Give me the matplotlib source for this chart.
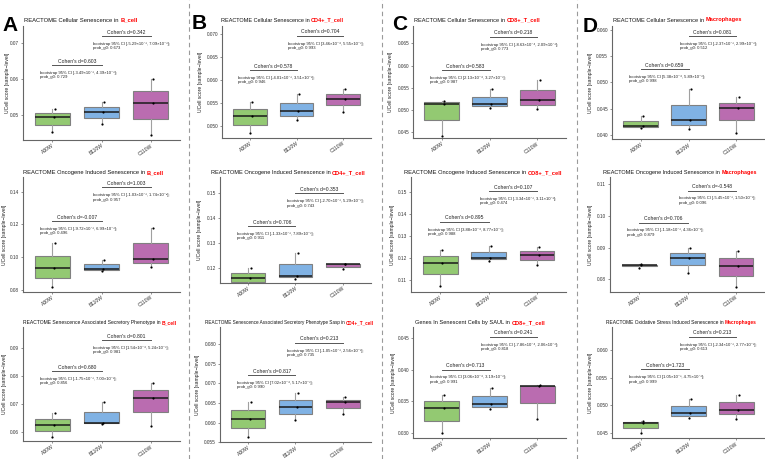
import matplotlib
matplotlib.use('Agg')
import matplotlib.pyplot as plt
import numpy as np

W, H = 765, 459
FONT = ['Liberation Sans', 'DejaVu Sans']
plt.rcParams['font.family'] = FONT

groups = ['A30W', 'B110W', 'C110W']
box_colors = ['#93C972', '#80B2E4', '#BA6CB0']

cells = ['B_cell', 'CD4+_T_cell', 'CD8+_T_cell', 'Macrophages']
title_prefix = [
    ['REACTOME Cellular Senescence in'] * 4,
    ['REACTOME Oncogene Induced Senescence in'] * 4,
    ['REACTOME Senescence Associated Secretory Phenotype in',
     'REACTOME Senescence Associated Secretory Phenotype Sasp in',
     'Genes In Senescent Cells by SAUL in',
     'REACTOME Oxidative Stress Induced Senescence in'],
]

# sample-level UCell scores (3 samples per group), per panel
vals_A1 = [[0.05167, 0.04935, 0.04537], [0.05353, 0.05083, 0.04750], [0.05992, 0.05325, 0.04444]]
vals_B1 = [[0.05530, 0.05218, 0.04841], [0.05698, 0.05327, 0.05131], [0.05800, 0.05595, 0.05305]]
vals_C1 = [[0.05210, 0.05130, 0.04424], [0.05466, 0.05130, 0.05053], [0.05670, 0.05226, 0.05017]]
vals_D1 = [[0.04362, 0.04177, 0.04127], [0.04870, 0.04286, 0.04108], [0.04718, 0.04509, 0.04044]]
vals_A2 = [[0.1085, 0.09325, 0.0820], [0.0983, 0.0931, 0.0918], [0.1180, 0.0989, 0.0942]]
vals_B2 = [[0.1202, 0.1160, 0.1129], [0.1262, 0.1170, 0.1157], [0.1218, 0.1216, 0.1197]]
vals_C2 = [[0.1236, 0.1178, 0.1073], [0.1255, 0.1200, 0.1187], [0.1248, 0.1213, 0.1168]]
vals_D2 = [[0.0847, 0.0845, 0.0837], [0.0900, 0.08665, 0.0821], [0.0889, 0.0843, 0.0777]]
vals_A3 = [[0.06683, 0.06240, 0.05800], [0.07080, 0.06324, 0.06266], [0.07763, 0.07223, 0.06205]]
vals_B3 = [[0.06536, 0.06094, 0.05628], [0.06750, 0.06393, 0.06069], [0.06663, 0.06520, 0.06214]]
vals_C3 = [[0.03600, 0.03401, 0.03000], [0.03706, 0.03460, 0.03376], [0.03757, 0.03742, 0.03220]]
vals_D3 = [[0.04718, 0.04681, 0.04489], [0.05112, 0.04852, 0.04761], [0.05184, 0.04912, 0.04749]]
panel_vals = [vals_A1, vals_B1, vals_C1, vals_D1,
              vals_A2, vals_B2, vals_C2, vals_D2,
              vals_A3, vals_B3, vals_C3, vals_D3]

# y tick labels per panel
yt_A1 = ['0.05', '0.06', '0.07']
yt_B1 = ['0.050', '0.055', '0.060', '0.065', '0.070']
yt_C1 = ['0.045', '0.050', '0.055', '0.060', '0.065']
yt_D1 = ['0.040', '0.045', '0.050', '0.055', '0.060']
yt_A2 = ['0.08', '0.10', '0.12', '0.14']
yt_B2 = ['0.12', '0.13', '0.14', '0.15']
yt_C2 = ['0.11', '0.12', '0.13', '0.14', '0.15']
yt_D2 = ['0.08', '0.09', '0.10', '0.11']
yt_A3 = ['0.06', '0.07', '0.08', '0.09']
yt_B3 = ['0.055', '0.060', '0.065', '0.070', '0.075', '0.080']
yt_C3 = ['0.030', '0.035', '0.040', '0.045']
yt_D3 = ['0.045', '0.050', '0.055', '0.060']
panel_yticks = [yt_A1, yt_B1, yt_C1, yt_D1, yt_A2, yt_B2, yt_C2, yt_D2,
                yt_A3, yt_B3, yt_C3, yt_D3]

# y limits per panel
ylims = [(0.04306, 0.07472), (0.04745, 0.07181), (0.04365, 0.06889), (0.03918, 0.06076),
         (0.07896, 0.14899), (0.11424, 0.15652), (0.1047, 0.15665), (0.07608, 0.1123),
         (0.05665, 0.09766), (0.05500, 0.08441), (0.02922, 0.04667), (0.04398, 0.06418)]

# comparison statistics: A30W vs B110W (lower) and B110W vs C110W (upper)
cohen_lo = ['0.603', '0.578', '0.583', '0.659', '-0.007', '0.706', '0.895', '0.706',
            '0.680', '0.817', '0.713', '1.723']
ci_lo = ['[-3.49×10⁻³, 4.39×10⁻³]', '[-4.01×10⁻³, 3.51×10⁻³]', '[2.13×10⁻⁴, 3.27×10⁻³]',
         '[5.38×10⁻⁴, 5.89×10⁻³]', '[-9.72×10⁻³, 6.99×10⁻³]', '[-1.33×10⁻³, 7.89×10⁻³]',
         '[3.88×10⁻⁴, 8.77×10⁻³]', '[-1.18×10⁻³, 4.36×10⁻³]', '[-1.75×10⁻³, 7.00×10⁻³]',
         '[7.02×10⁻⁴, 5.17×10⁻³]', '[3.06×10⁻⁴, 3.19×10⁻³]', '[1.05×10⁻³, 4.75×10⁻³]']
prob_lo = ['0.729', '0.946', '0.987', '0.998', '0.496', '0.911', '0.988', '0.879',
           '0.856', '0.990', '0.991', '0.999']
cohen_hi = ['0.342', '0.704', '0.218', '0.081', '1.003', '0.353', '0.107', '-0.548',
            '0.801', '0.213', '0.241', '0.213']
ci_hi = ['[-5.29×10⁻³, 7.09×10⁻³]', '[3.46×10⁻⁴, 5.55×10⁻³]', '[-8.63×10⁻⁴, 2.09×10⁻³]',
         '[-2.37×10⁻³, 2.99×10⁻³]', '[-1.03×10⁻³, 1.74×10⁻²]', '[-2.70×10⁻³, 5.29×10⁻³]',
         '[-3.34×10⁻³, 3.11×10⁻³]', '[-5.45×10⁻³, 1.50×10⁻³]', '[1.54×10⁻⁴, 5.24×10⁻³]',
         '[-1.05×10⁻³, 2.56×10⁻³]', '[-7.86×10⁻⁴, 2.06×10⁻³]', '[-2.34×10⁻³, 2.77×10⁻³]']
prob_hi = ['0.673', '0.993', '0.773', '0.512', '0.957', '0.743', '0.474', '0.096',
           '0.981', '0.735', '0.818', '0.613']
bracket_lo = [0.06389, 0.06222, 0.0590, 0.05257, 0.1221, 0.1369, 0.1364, 0.0979,
              0.08183, 0.07217, 0.0400, 0.0565]
bracket_hi = [0.07194, 0.0697, 0.06648, 0.05886, 0.1427, 0.1500, 0.1503, 0.1080,
              0.09298, 0.0804, 0.04515, 0.06242]

# layout (pixels)
axes_px = [(23, 180, 26, 140), (222, 371, 26, 137.7), (413, 566, 26, 138.3), (612, 765, 26, 139.3),
           (23, 180, 177, 291.7), (220, 371, 177, 282.7), (411, 566, 177, 291.7), (610, 765, 177, 291.7),
           (23, 180, 327, 441), (220, 371, 327, 442.3), (413, 566, 327, 438.3), (612, 765, 327, 438.3)]
ylabel_px = [10, 202.7, 393.3, 593.3, 7.3, 201.7, 395, 593.3, 6.7, 200, 396, 593.3]
title_px = [(24, 20, 115), (220.7, 20, 126), (414, 20, 127.7), (612.7, 20, 130.7),
            (22.7, 172.7, 144), (210.7, 172.7, 155.3), (404, 172.7, 161), (603.3, 172.7, 158),
            (22.7, 322.7, 154), (205, 322.7, 170), (415, 322.7, 131.7), (606, 322.7, 150.7)]
letters = ['A', 'B', 'C', 'D']
letter_px = [(10.5, 25.5), (199, 23.5), (400, 25), (590, 26.5)]
sep_px = [189.3, 382, 576.7]

fig = plt.figure(figsize=(W / 100, H / 100), dpi=100)
renderer = fig.canvas.get_renderer()

jit = [0.05, 0.04, 0.0]
for i in range(12):
    l, r, t, b = axes_px[i]
    ax = fig.add_axes([l / W, 1 - b / H, (r - l) / W, (b - t) / H])
    vals = panel_vals[i]
    bp = ax.boxplot(vals, positions=[1, 2, 3], widths=0.72, patch_artist=True,
                    showfliers=False, whis=1.5, zorder=2)
    for patch, c in zip(bp['boxes'], box_colors):
        patch.set_facecolor(c)
        patch.set_edgecolor('#808080')
        patch.set_linewidth(0.8)
    for w in bp['whiskers']:
        w.set_color('#a0a0a0'); w.set_linewidth(0.8)
    for cp in bp['caps']:
        cp.set_visible(False)
    for m in bp['medians']:
        m.set_color('#1a1a1a'); m.set_linewidth(1.1)
    for k, v in enumerate(vals):
        ax.scatter([k + 1 + j for j in jit], v, s=2.5, color='black', zorder=4, linewidths=0)
    ax.set_xlim(0.4, 3.6)
    ax.set_ylim(*ylims[i])
    yt = panel_yticks[i]
    ax.set_yticks([float(s) for s in yt])
    ax.set_yticklabels(yt, fontsize=3.4, color='#333333')
    ax.set_xticks([1, 2, 3])
    ax.set_xticklabels(groups, fontsize=3.6, rotation=35, ha='right',
                       rotation_mode='anchor', color='#333333')
    ax.tick_params(axis='y', length=1.5, width=0.5, color='#666666', pad=1.2)
    ax.tick_params(axis='x', length=1.5, width=0.5, color='#666666', pad=0.6)
    for s in ['top', 'right']:
        ax.spines[s].set_visible(False)
    for s in ['left', 'bottom']:
        ax.spines[s].set_color('#666666'); ax.spines[s].set_linewidth(0.8)
    ax.set_ylabel('UCell score [sample\u2212level]', fontsize=3.6, color='#222222')
    ax.yaxis.set_label_coords((ylabel_px[i] - l) / (r - l), 0.5)
    ax.set_facecolor('none')

    # comparison brackets
    for (x1, x2, yb, cd, ci, pg, xt) in [
            (1.0, 2.0, bracket_lo[i], cohen_lo[i], ci_lo[i], prob_lo[i], 0.75),
            (2.0, 3.0, bracket_hi[i], cohen_hi[i], ci_hi[i], prob_hi[i], 1.82)]:
        ax.plot([x1, x2], [yb, yb], color='#555555', lw=0.7, zorder=3, clip_on=False)
        ax.annotate("Cohen's d=" + cd, xy=((x1 + x2) / 2, yb), xytext=(0, 1.0),
                    textcoords='offset points', ha='center', va='bottom',
                    fontsize=3.6, color='#222222', annotation_clip=False)
        ax.annotate('bootstrap 95% CI ' + ci + ';\nprob_g0: ' + pg, xy=(xt, yb),
                    xytext=(0, -4.2), textcoords='offset points', ha='left', va='top',
                    fontsize=3.0, color='#222222', linespacing=1.2, annotation_clip=False)

    # title
    x0, yc, target = title_px[i]
    prefix = title_prefix[i // 4][i % 4]
    cell = cells[i % 4]
    fs = 5.0
    t1 = fig.text(x0 / W, 1 - yc / H, prefix, fontsize=fs, ha='left', va='center', color='#111111')
    t2 = fig.text(0, 0, cell, fontsize=fs, ha='left', va='center', color='#ff0000', fontweight='bold')
    w1 = t1.get_window_extent(renderer).width
    w2 = t2.get_window_extent(renderer).width
    gap = fs * 0.28 * 100 / 72
    sc = target / (w1 + w2 + gap)
    fs2 = fs * sc
    t1.set_fontsize(fs2); t2.set_fontsize(fs2)
    w1 = t1.get_window_extent(renderer).width
    t2.set_position(((x0 + w1 + fs2 * 0.28 * 100 / 72) / W, 1 - yc / H))

for L, (lx, ly) in zip(letters, letter_px):
    fig.text(lx / W, 1 - ly / H, L, fontsize=15, fontweight='bold', ha='center', va='center', color='black')

for sx in sep_px:
    fig.add_artist(plt.Line2D([sx / W, sx / W], [0, 1], transform=fig.transFigure,
                              color='#9a9a9a', lw=0.8, linestyle=(0, (4, 3))))

fig.savefig('out.png', dpi=100, facecolor='white')
